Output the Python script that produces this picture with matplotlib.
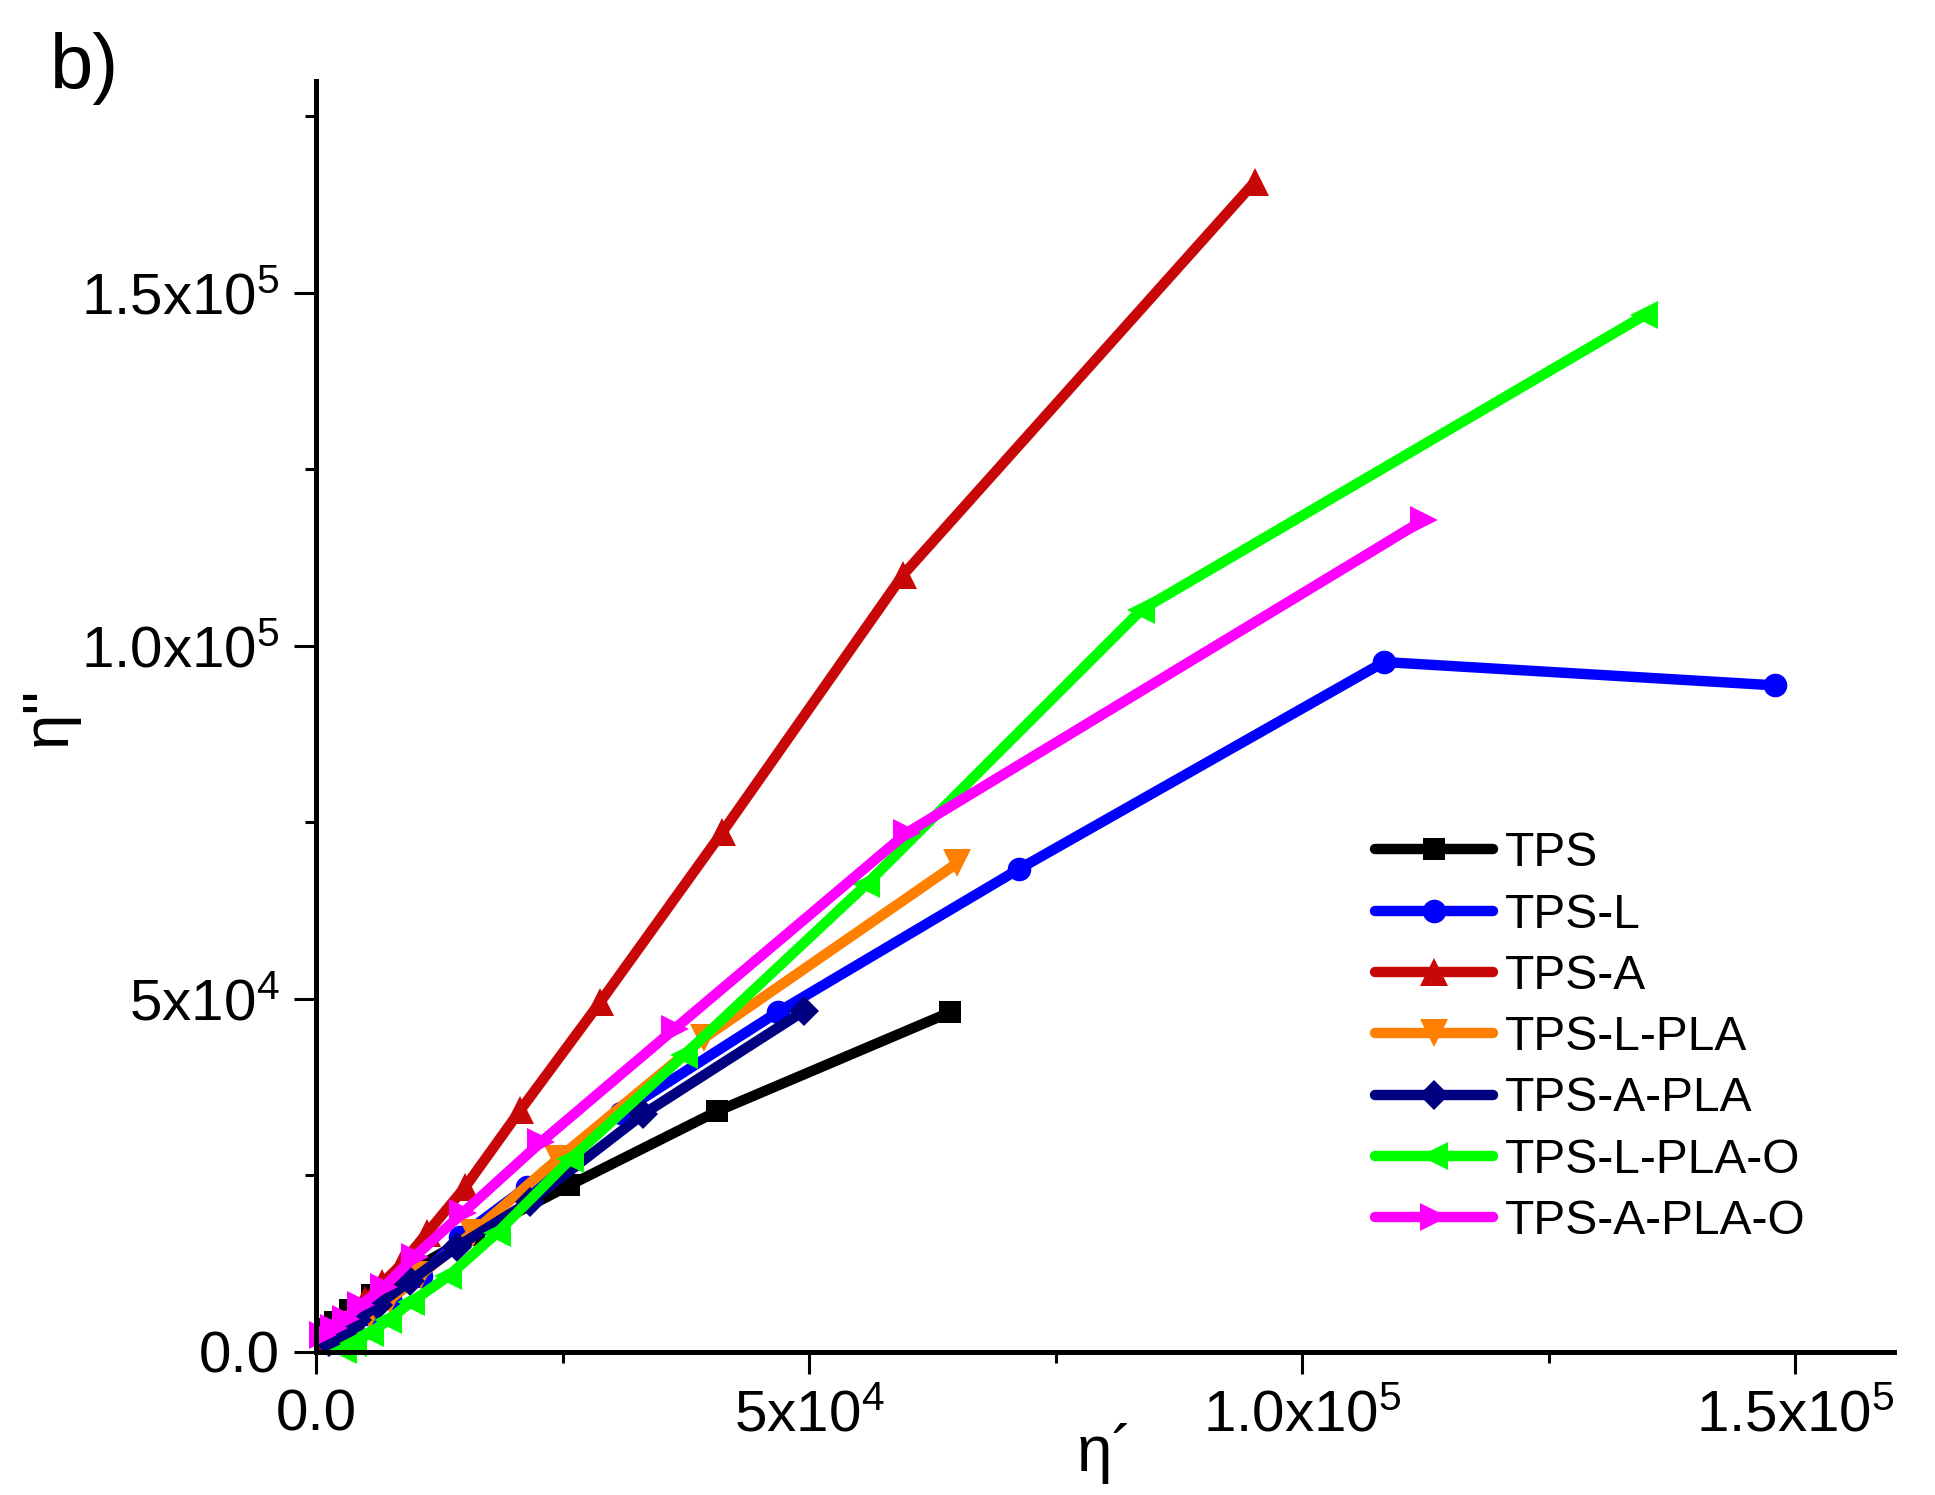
import matplotlib
matplotlib.use("Agg")
import matplotlib.pyplot as plt

plt.rcParams["font.family"] = ["Liberation Sans", "DejaVu Sans"]
plt.rcParams["mathtext.fontset"] = "custom"
plt.rcParams["mathtext.rm"] = "Liberation Sans"
plt.rcParams["mathtext.it"] = "Liberation Sans:italic"

# ── data (eta' , eta'') ────────────────────────────────────────────────────
tps_x = [900, 1900, 3400, 5700, 9600, 16000, 25700, 40700, 64300]
tps_y = [3300, 4300, 5900, 8000, 11500, 16600, 23600, 34100, 48100]

tps_l_x = [1200, 1800, 2600, 3700, 5300, 7500, 10600, 14600, 21400, 30900, 46800, 71300, 108300, 147900]
tps_l_y = [1300, 1900, 2700, 3800, 5400, 7600, 10700, 16300, 23400, 33900, 48100, 68400, 97700, 94400]

tps_a_x = [1200, 2300, 3500, 5000, 6700, 8600, 11300, 15100, 20700, 28800, 41200, 59500, 95200]
tps_a_y = [2000, 3600, 5200, 7300, 9700, 12300, 16900, 23300, 34200, 49500, 73600, 110000, 165700]

tps_l_pla_x = [1300, 2000, 2900, 4000, 5500, 7500, 10600, 15900, 24500, 39300, 65000]
tps_l_pla_y = [1200, 1900, 2700, 3800, 5300, 7400, 10900, 16900, 27300, 44400, 69200]

tps_a_pla_x = [1300, 1900, 2800, 4200, 6300, 9500, 14300, 21700, 33200, 49500]
tps_a_pla_y = [1400, 2000, 3000, 4500, 6700, 10000, 14900, 21300, 33700, 48300]

tps_l_pla_o_x = [2700, 3800, 5500, 7300, 9600, 13400, 18400, 25800, 37300, 55800, 83700, 134700]
tps_l_pla_o_y = [300, 1300, 2700, 4500, 7000, 10700, 16900, 27300, 42000, 66200, 105100, 146800]

tps_a_pla_o_x = [700, 1800, 3000, 4600, 6900, 10000, 14900, 22800, 36400, 59900, 112300]
tps_a_pla_o_y = [2400, 3400, 4700, 6700, 9200, 13500, 19700, 29700, 45800, 73500, 117800]

labels = ["TPS", "TPS-L", "TPS-A", "TPS-L-PLA", "TPS-A-PLA", "TPS-L-PLA-O", "TPS-A-PLA-O"]
xs = [tps_x, tps_l_x, tps_a_x, tps_l_pla_x, tps_a_pla_x, tps_l_pla_o_x, tps_a_pla_o_x]
ys = [tps_y, tps_l_y, tps_a_y, tps_l_pla_y, tps_a_pla_y, tps_l_pla_o_y, tps_a_pla_o_y]

tick_values = [0, 50000, 100000, 150000]
tick_labels = ["0.0", r"5x10$^{4}$", r"1.0x10$^{5}$", r"1.5x10$^{5}$"]
minor_values = [25000, 75000, 125000, 175000]

# ── styles ────────────────────────────────────────────────────────────────
colors = ["#000000", "#0000FF", "#C80808", "#FF8000", "#000080", "#00FF00", "#FF00FF"]
markers = ["s", "o", "^", "v", "D", "<", ">"]
msizes = [15.5, 17, 20, 20, 15, 20, 20]

fig = plt.figure(figsize=(19.35, 14.95), dpi=100)
ax = fig.add_axes([0.1633, 0.0957, 0.8155, 0.8502])

for x, y, lab, c, m, s in zip(xs, ys, labels, colors, markers, msizes):
    ax.plot(x, y, color=c, marker=m, markersize=s, linewidth=7.5,
            markeredgewidth=0, label=lab, clip_on=False,
            solid_capstyle="round")

ax.set_xlim(0, 160000)
ax.set_ylim(0, 180000)

ax.set_xticks(tick_values)
ax.set_xticklabels(tick_labels)
ax.set_yticks(tick_values)
ax.set_yticklabels(tick_labels)
ax.set_xticks([v for v in minor_values if v < 160000], minor=True)
ax.set_yticks(minor_values, minor=True)

for side in ["top", "right"]:
    ax.spines[side].set_visible(False)
for side in ["left", "bottom"]:
    ax.spines[side].set_linewidth(3.6)

ax.tick_params(which="major", direction="out", length=16, width=2.2,
               labelsize=42, pad=10)
ax.tick_params(which="minor", direction="out", length=8, width=2.2)

ax.set_xlabel("η´", fontsize=46, labelpad=-14)
ax.set_ylabel("η''", fontsize=46, labelpad=2)

fig.text(0.026, 0.954, "b)", fontsize=56, va="center", ha="left")

leg = ax.legend(loc="upper left", bbox_to_anchor=(0.7106, 0.4440),
                bbox_transform=fig.transFigure, frameon=False,
                fontsize=34.5, handlelength=2.46, handletextpad=0.25,
                labelspacing=0.34, borderpad=0, borderaxespad=0, numpoints=1)

fig.savefig("out.png", dpi=100)
